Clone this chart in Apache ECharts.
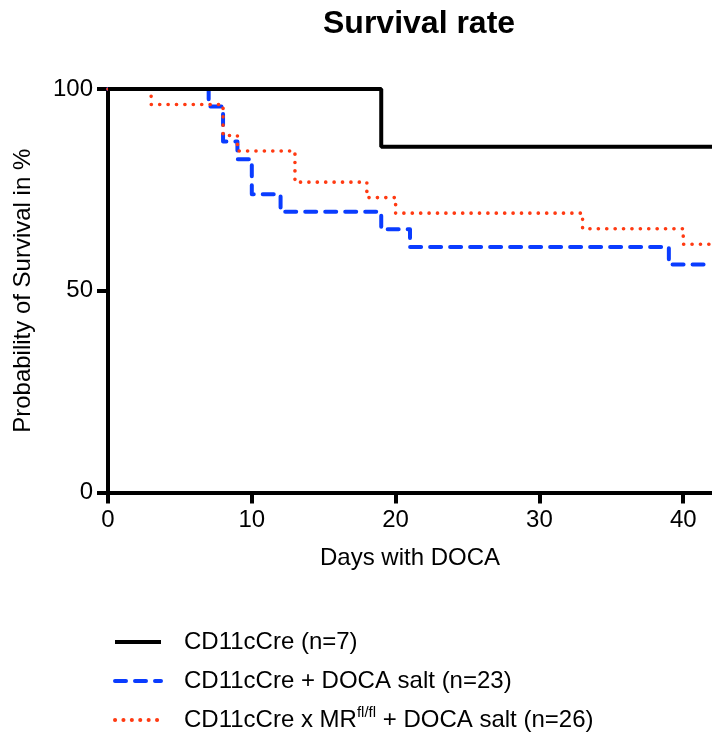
<!DOCTYPE html>
<html>
<head>
<meta charset="utf-8">
<script src="https://cdn.jsdelivr.net/npm/echarts@6/dist/echarts.min.js"></script>
<style>
html,body{margin:0;padding:0;background:#fff;}
#chart{width:712px;height:735px;}
</style>
</head>
<body>
<div id="chart"></div>
<script>
// ---- Data (Kaplan-Meier step points: day, survival %) ----
const seriesNames = ['CD11cCre (n=7)', 'CD11cCre + DOCA salt (n=23)', 'CD11cCre x MRfl/fl + DOCA salt (n=26)'];
const ctrlDays = [0, 19, 42];
const ctrlSurv = [100, 85.71, 85.71];
const docaDays = [0, 7, 8, 9, 10, 12, 19, 21, 39, 42];
const docaSurv = [100, 95.65, 86.96, 82.61, 73.91, 69.57, 65.22, 60.87, 56.52, 56.52];
const mrDays = [0, 3, 8, 9, 13, 18, 20, 33, 40, 42];
const mrSurv = [100, 96.15, 88.46, 84.62, 76.92, 73.08, 69.23, 65.38, 61.54, 61.54];
const xTicks = [0, 10, 20, 30, 40];
const yTicks = [0, 50, 100];

const pairs = (xs, ys) => xs.map((x, i) => [x, ys[i]]);
const FONT = 'Liberation Sans, Arial, Helvetica, sans-serif';

const chart = echarts.init(document.getElementById('chart'), null, {renderer: 'canvas'});
chart.setOption({
  animation: false,
  backgroundColor: '#fff',
  title: {
    text: 'Survival rate',
    left: 323, top: 8, padding: 0,
    textStyle: {fontFamily: FONT, fontWeight: 'bold', fontSize: 32, color: '#000'}
  },
  grid: {left: 108, right: -3, top: 89, bottom: 242.5, containLabel: false},
  xAxis: {
    type: 'value', min: 0, max: 42, interval: 10,
    name: 'Days with DOCA', nameLocation: 'middle', nameGap: 54,
    nameTextStyle: {fontFamily: FONT, fontSize: 24, color: '#000'},
    axisLine: {lineStyle: {color: '#000', width: 4}},
    axisTick: {length: 11, lineStyle: {color: '#000', width: 4}},
    axisLabel: {
      fontFamily: FONT, fontSize: 24, color: '#000', margin: 16, showMaxLabel: false,
      formatter: v => xTicks.indexOf(v) >= 0 ? String(v) : ''
    },
    splitLine: {show: false}
  },
  yAxis: {
    type: 'value', min: 0, max: 100, interval: 50,
    name: 'Probability of Survival in %', nameLocation: 'middle', nameGap: 73,
    nameTextStyle: {fontFamily: FONT, fontSize: 24, color: '#000'},
    axisLine: {lineStyle: {color: '#000', width: 4}},
    axisTick: {length: 11, lineStyle: {color: '#000', width: 4}},
    axisLabel: {
      fontFamily: FONT, fontSize: 24, color: '#000', margin: 15,
      formatter: v => yTicks.indexOf(v) >= 0 ? String(v) : ''
    },
    splitLine: {show: false}
  },
  legend: {
    orient: 'vertical', left: 113, top: 627, padding: 0,
    itemWidth: 46, itemHeight: 14, itemGap: 9,
    itemStyle: {opacity: 0},
    lineStyle: {width: 4},
    data: seriesNames,
    formatter: name => name.replace('MRfl/fl', 'MR{sup|fl/fl}'),
    textStyle: {
      fontFamily: FONT, fontSize: 24, color: '#000', lineHeight: 30, padding: [0, 0, 0, 18],
      rich: {sup: {fontFamily: FONT, fontSize: 15, lineHeight: 15, verticalAlign: 'top', color: '#000'}}
    }
  },
  series: [
    {
      name: seriesNames[1], type: 'line', step: 'end', symbol: 'none', z: 3,
      data: pairs(docaDays, docaSurv),
      lineStyle: {color: '#0a3cff', width: 4, type: [11, 9], cap: 'round', join: 'round'},
      itemStyle: {color: '#0a3cff'}
    },
    {
      name: seriesNames[2], type: 'line', step: 'end', symbol: 'none', z: 4,
      data: pairs(mrDays, mrSurv),
      lineStyle: {color: '#ff3a12', width: 3.6, type: [0.1, 8.3], cap: 'round', join: 'round'},
      itemStyle: {color: '#ff3a12'}
    },
    {
      name: seriesNames[0], type: 'line', step: 'end', symbol: 'none', z: 5,
      data: pairs(ctrlDays, ctrlSurv),
      lineStyle: {color: '#000', width: 4, type: 'solid'},
      itemStyle: {color: '#000'}
    }
  ]
});
</script>
</body>
</html>
